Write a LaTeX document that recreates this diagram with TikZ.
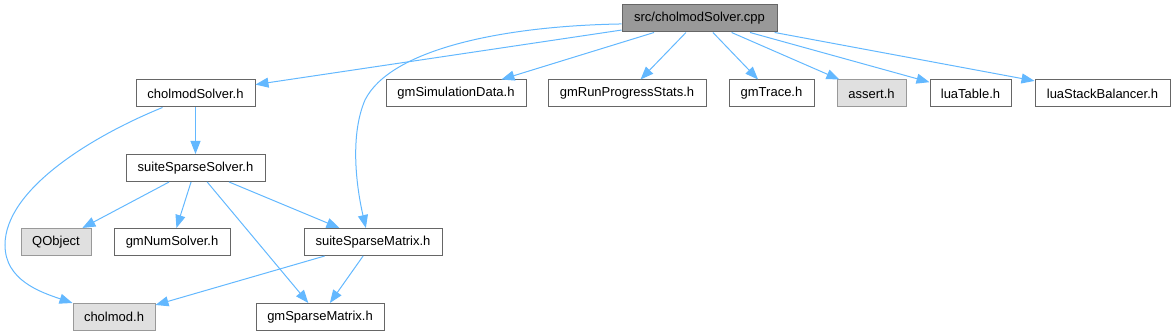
\documentclass[tikz,border=0pt]{standalone}
\usepackage{fontspec}
\setmainfont{Liberation Sans}
\definecolor{edgeblue}{HTML}{63B8FF}
\definecolor{boxline}{HTML}{666666}
\definecolor{extline}{HTML}{999999}
\definecolor{extfill}{HTML}{E0E0E0}
\definecolor{srcfill}{HTML}{999999}
\usetikzlibrary{arrows.meta}
\tikzset{
  hdr/.style={rectangle,draw=boxline,fill=white,line width=1pt,
    minimum width=#1,minimum height=27pt,inner sep=0pt,
    font=\fontsize{13}{15}\selectfont},
  exthdr/.style={hdr=#1,draw=extline,fill=extfill},
  srchdr/.style={hdr=#1,fill=srcfill},
  dep/.style={-{Triangle[length=13pt,width=10pt]},draw=edgeblue,line width=1pt},
}

\begin{document}
\begin{tikzpicture}[x=1pt,y=-1pt]
  \useasboundingbox (0,0) rectangle (1175,336);

  \node[srchdr=155pt] (cpp) at (699.5,18.5) {src/cholmodSolver.cpp};

  \node[hdr=119pt] (cholsolver) at (195.5,93.5) {cholmodSolver.h};
  \node[hdr=140pt] (simdata) at (456,93.5) {gmSimulationData.h};
  \node[hdr=158pt] (runstats) at (627,93.5) {gmRunProgressStats.h};
  \node[hdr=85pt] (trace) at (771.5,93.5) {gmTrace.h};
  \node[exthdr=69pt] (assrt) at (871.5,93.5) {assert.h};
  \node[hdr=81pt] (luatbl) at (970.5,93.5) {luaTable.h};
  \node[hdr=135pt] (luastack) at (1102.5,93.5) {luaStackBalancer.h};

  \node[hdr=139pt] (sssolver) at (195.5,168) {suiteSparseSolver.h};

  \node[exthdr=70pt] (qobj) at (56,242) {QObject};
  \node[hdr=116pt] (numsolver) at (172,242) {gmNumSolver.h};
  \node[hdr=138pt] (ssmatrix) at (373,242) {suiteSparseMatrix.h};

  \node[exthdr=82pt] (cholmod) at (114,317) {cholmod.h};
  \node[hdr=128pt] (sparsemat) at (320,317) {gmSparseMatrix.h};

  \draw[dep] (cpp) -- (cholsolver);
  \draw[dep] (cpp.184) .. controls (500,26) and (390,50) .. (365,100)
    .. controls (350,135) and (356,185) .. (ssmatrix.117);
  \draw[dep] (cpp) -- (simdata);
  \draw[dep] (cpp) -- (runstats);
  \draw[dep] (cpp) -- (trace);
  \draw[dep] (cpp) -- (assrt);
  \draw[dep] (cpp) -- (luatbl);
  \draw[dep] (cpp) -- (luastack);
  \draw[dep] (cholsolver) -- (sssolver);
  \draw[dep] (cholsolver.203) .. controls (90,137) and (5,190) .. (5,245)
    .. controls (5,280) and (40,292) .. (cholmod.north west);
  \draw[dep] (sssolver) -- (qobj);
  \draw[dep] (sssolver) -- (numsolver);
  \draw[dep] (sssolver) -- (ssmatrix);
  \draw[dep] (sssolver) -- (sparsemat);
  \draw[dep] (ssmatrix) -- (cholmod);
  \draw[dep] (ssmatrix) -- (sparsemat);
\end{tikzpicture}
\end{document}
